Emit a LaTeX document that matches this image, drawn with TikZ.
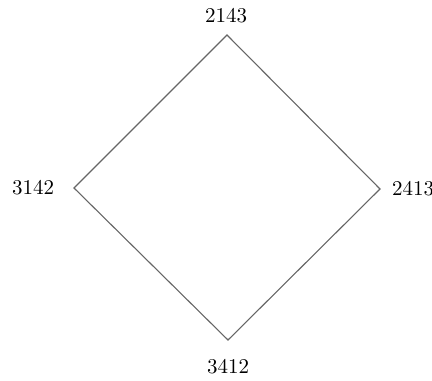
\documentclass[tikz,border=0pt]{standalone}
\begin{document}
\begin{tikzpicture}[x=0.5pt,y=-0.5pt,
  vtx/.style={inner sep=0pt,minimum size=0pt},
  lbl/.style={inner sep=0pt,font=\fontsize{10.5}{12}\selectfont},
  edge/.style={draw=black!60,line width=0.55pt}]
\useasboundingbox (0,0) rectangle (432,380);
\coordinate (t) at (227,35);
\coordinate (l) at (74,188);
\coordinate (r) at (380,189);
\coordinate (b) at (228,340);
\node[lbl] (lt) at (226,16) {2143};
\node[lbl] (ll) at (33,188) {3142};
\node[lbl] (lr) at (413,189) {2413};
\node[lbl] (lb) at (228,367) {3412};
\draw[edge] (l) -- (t) -- (r) -- (b) -- cycle;
\end{tikzpicture}
\end{document}
